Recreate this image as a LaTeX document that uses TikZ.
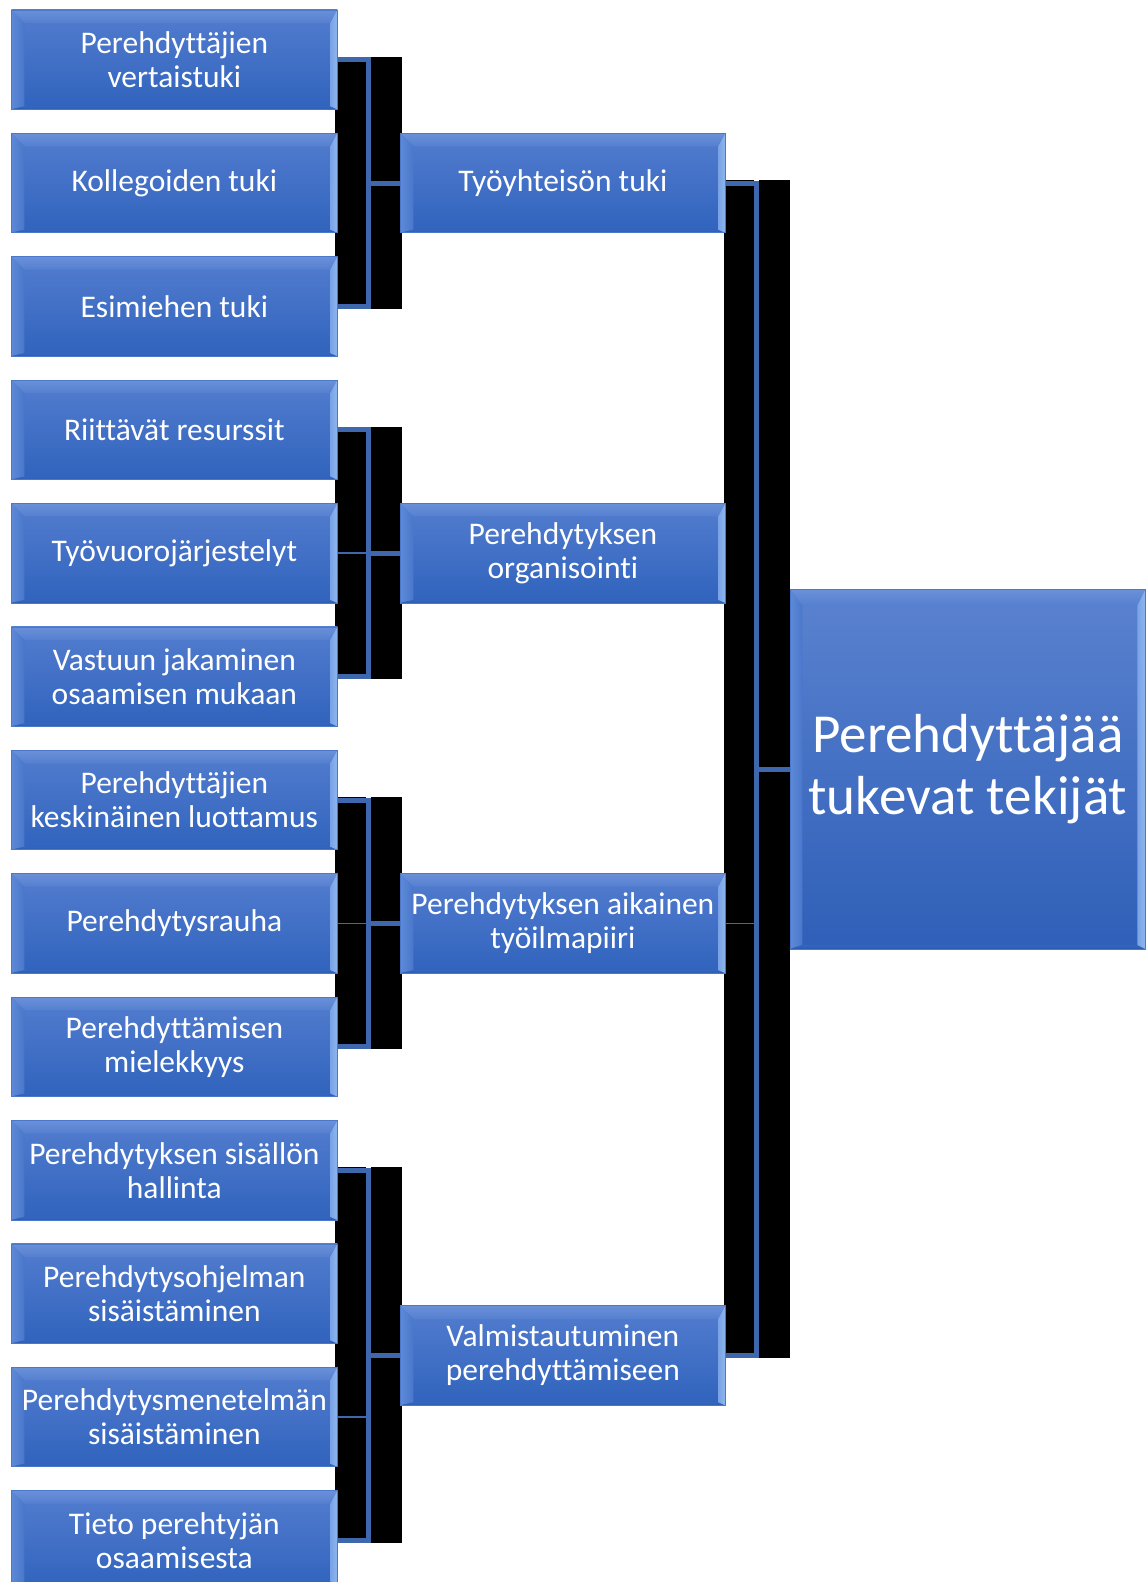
\documentclass[tikz,border=0pt]{standalone}
\usepackage{fontspec}
\setmainfont{Carlito}[Ligatures=NoCommon]
\usetikzlibrary{calc}
\definecolor{boxtop}{HTML}{537DCF}
\definecolor{boxbot}{HTML}{3063BD}
\definecolor{bigtop}{HTML}{5A82CF}
\definecolor{bigbot}{HTML}{2F5FB8}
\definecolor{boxedge}{HTML}{4C78CB}
\definecolor{bevTa}{HTML}{6A90D8}
\definecolor{bevTb}{HTML}{A9C7F3}
\definecolor{bevTc}{HTML}{5580D0}
\definecolor{bevLa}{HTML}{5E89D8}
\definecolor{bevLb}{HTML}{4A77CB}
\definecolor{bevBa}{HTML}{3566BF}
\definecolor{bevBb}{HTML}{2C5BB1}
\definecolor{bevRa}{HTML}{7AA3E6}
\definecolor{bevRb}{HTML}{EAF5FF}
\definecolor{bevRc}{HTML}{8DB6EF}
\definecolor{linkblue}{HTML}{3F67AE}
\pgfdeclarelayer{bgw}
\pgfdeclarelayer{background}
\pgfsetlayers{bgw,background,main}
\newcommand\bevelbands[4]{%
  \path (path picture bounding box.north west) coordinate (pNW)
        (path picture bounding box.north east) coordinate (pNE)
        (path picture bounding box.south west) coordinate (pSW)
        (path picture bounding box.south east) coordinate (pSE);
  \shade[top color=bevTa, middle color=bevTb, bottom color=bevTc]
    (pNW) -- (pNE) -- ([shift={(-#3pt,-#1pt)}]pNE) -- ([shift={(#2pt,-#1pt)}]pNW) -- cycle;
  \shade[left color=bevLa, right color=bevLb]
    (pNW) -- ([shift={(#2pt,-#1pt)}]pNW) -- ([shift={(#2pt,#4pt)}]pSW) -- (pSW) -- cycle;
  \shade[top color=bevBa, bottom color=bevBb]
    (pSW) -- ([shift={(#2pt,#4pt)}]pSW) -- ([shift={(-#3pt,#4pt)}]pSE) -- (pSE) -- cycle;
  \shade[left color=bevRa, middle color=bevRb, right color=bevRc]
    (pNE) -- ([shift={(-#3pt,-#1pt)}]pNE) -- ([shift={(-#3pt,#4pt)}]pSE) -- (pSE) -- cycle;
}
\tikzset{
  basebox/.style={draw=boxedge, line width=0.7pt, top color=boxtop, bottom color=boxbot,
    text=white, align=center, inner sep=0pt, anchor=north west},
  smallbox/.style={basebox, minimum width=326pt, minimum height=99.5pt,
    font=\fontsize{31.5}{34}\selectfont, path picture={\bevelbands{13}{13}{7}{3}}},
  midbox/.style={smallbox, minimum width=325pt},
  bigbox/.style={basebox, top color=bigtop, bottom color=bigbot, minimum width=355pt,
    minimum height=359.4pt, font=\fontsize{55}{62}\selectfont,
    path picture={\bevelbands{16}{12}{8}{4}}},
  conn/.style={draw=linkblue, line width=5pt},
  thinconn/.style={draw=linkblue, line width=1.5pt},
}
\begin{document}
\begin{tikzpicture}[x=1pt, y=-1pt]
\begin{pgfonlayer}{bgw}
\fill[white] (0,0) rectangle (1148,1582);
\end{pgfonlayer}
\useasboundingbox (0,0) rectangle (1148,1582);
\clip (0,0) rectangle (1148,1582);

% left column
\node[smallbox] (c0) at (11,9.5) {Perehdyttäjien\\vertaistuki};
\node[smallbox] (c1) at (11,132.9) {Kollegoiden tuki};
\node[smallbox] (c2) at (11,256.3) {Esimiehen tuki};
\node[smallbox] (c3) at (11,379.7) {Riittävät resurssit};
\node[smallbox] (c4) at (11,503.1) {Työvuorojärjestelyt};
\node[smallbox] (c5) at (11,626.5) {Vastuun jakaminen\\osaamisen mukaan};
\node[smallbox] (c6) at (11,749.9) {Perehdyttäjien\\keskinäinen luottamus};
\node[smallbox] (c7) at (11,873.3) {Perehdytysrauha};
\node[smallbox] (c8) at (11,996.7) {Perehdyttämisen\\mielekkyys};
\node[smallbox] (c9) at (11,1120.1) {Perehdytyksen sisällön\\hallinta};
\node[smallbox] (c10) at (11,1243.5) {Perehdytysohjelman\\sisäistäminen};
\node[smallbox] (c11) at (11,1366.9) {Perehdytysmenetelmän\\sisäistäminen};
\node[smallbox] (c12) at (11,1490.3) {Tieto perehtyjän\\osaamisesta};

% middle column
\node[midbox] (m1) at (400,132.9) {Työyhteisön tuki};
\node[midbox] (m2) at (400,503.1) {Perehdytyksen\\organisointi};
\node[midbox] (m3) at (400,873.3) {Perehdytyksen aikainen\\työilmapiiri};
\node[midbox] (m4) at (400,1305.45) {Valmistautuminen\\perehdyttämiseen};

% root
\node[bigbox] (root) at (790,589.2) {Perehdyttäjää\\tukevat tekijät};

\coordinate (v) at (368.2,0);
\coordinate (w) at (756.5,0);

\begin{pgfonlayer}{background}
% black bracket fills
\fill[black] (335,56.75) rectangle (366,308.55);
\fill[black] (370.5,56.75) rectangle (402,308.55);
\fill[black] (335,426.95) rectangle (366,678.75);
\fill[black] (370.5,426.95) rectangle (402,678.75);
\fill[black] (335,797.15) rectangle (366,1048.95);
\fill[black] (370.5,797.15) rectangle (402,1048.95);
\fill[black] (335,1167.35) rectangle (366,1542.55);
\fill[black] (370.5,1167.35) rectangle (402,1542.55);
\fill[black] (724,180.15) rectangle (754,1357.7);
\fill[black] (759,180.15) rectangle (790,1357.7);

% group 1
\draw[conn] (c0.east) -- (c0.east -| v) -- (c2.east -| v) -- (c2.east);
\draw[conn] (m1.west -| v) -- (m1.west);
% group 2
\draw[conn] (c3.east) -- (c3.east -| v) -- (c5.east -| v) -- (c5.east);
\draw[thinconn] (c4.east) -- (c4.east -| v);
\draw[conn] (m2.west -| v) -- (m2.west);
% group 3
\draw[conn] (c6.east) -- (c6.east -| v) -- (c8.east -| v) -- (c8.east);
\draw[thinconn] (c7.east) -- (c7.east -| v);
\draw[conn] (m3.west -| v) -- (m3.west);
% group 4
\draw[conn] (c9.east) -- (c9.east -| v) -- (c12.east -| v) -- (c12.east);
\draw[thinconn] (c11.east) -- (c11.east -| v);
\draw[conn] (m4.west -| v) -- (m4.west);
% outer
\draw[conn] (m1.east) -- (m1.east -| w) -- (m4.east -| w) -- (m4.east);
\draw[thinconn] (m3.east) -- (m3.east -| w);
\draw[conn] (root.west -| w) -- (root.west);
\end{pgfonlayer}
\end{tikzpicture}
\end{document}
